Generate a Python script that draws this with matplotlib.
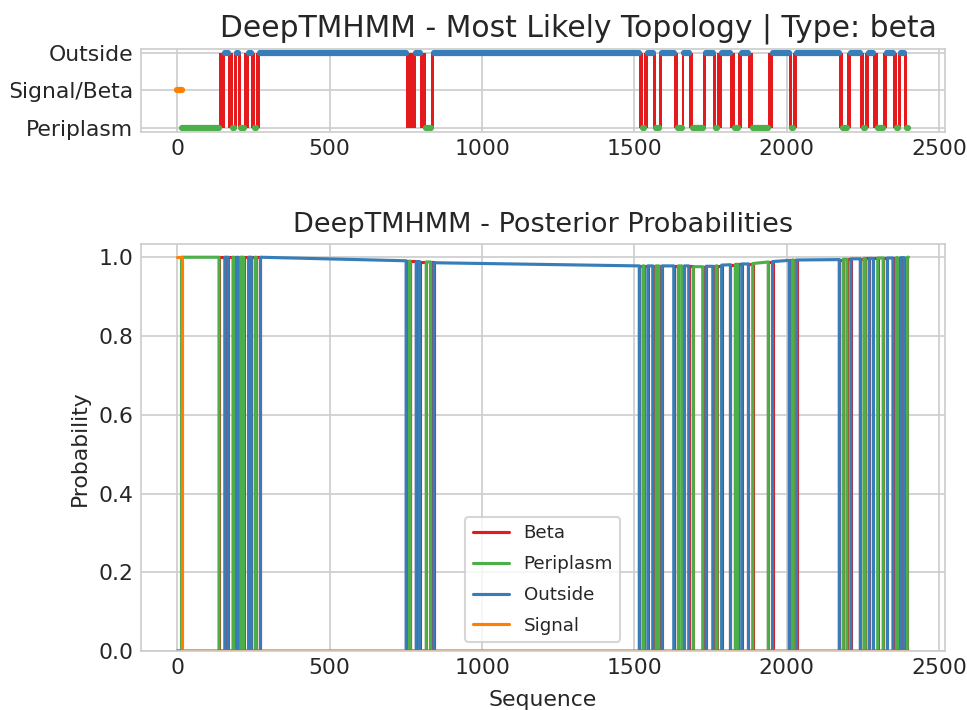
import matplotlib
matplotlib.use("Agg")
import matplotlib.pyplot as plt
from matplotlib.transforms import Bbox, TransformedBbox
import seaborn as sns

# ---- data (residue positions) ----
signal_end = 14
seq_end = 2399

strand_start = [137, 167, 186, 198, 218, 243, 259,
                751, 764, 795, 831,
                1516, 1531, 1560, 1580, 1629, 1655, 1678, 1724, 1757, 1771,
                1815, 1839, 1874, 1939, 2008, 2021, 2172, 2197, 2241, 2257,
                2284, 2316, 2348, 2363, 2385]
strand_end = [156, 183, 196, 208, 234, 256, 273,
              762, 784, 817, 842,
              1528, 1544, 1571, 1591, 1644, 1664, 1693, 1735, 1768, 1786,
              1831, 1852, 1888, 1953, 2018, 2032, 2185, 2210, 2253, 2270,
              2298, 2330, 2360, 2374, 2395]

# posterior level at start / end of each loop (loops alternate Periplasm / Outside)
loop_p_start = [1.0, 1.0, 1.0, 1.0, 1.0, 1.0, 1.0, 1.0,
                0.990, 0.989, 0.988, 0.986,
                0.978, 0.978, 0.978, 0.978, 0.978, 0.978, 0.976, 0.977, 0.978,
                0.980, 0.982, 0.983, 0.984, 0.989, 0.993, 0.993, 0.995, 0.996,
                0.997, 0.997, 0.998, 0.998, 0.999, 0.999, 1.0]
loop_p_end = [1.0, 1.0, 1.0, 1.0, 1.0, 1.0, 1.0, 0.991,
              0.990, 0.989, 0.988, 0.978,
              0.978, 0.978, 0.978, 0.978, 0.978, 0.978, 0.976, 0.977, 0.978,
              0.981, 0.982, 0.983, 0.988, 0.992, 0.993, 0.994, 0.995, 0.996,
              0.997, 0.997, 0.998, 0.998, 0.999, 0.999, 1.0]
signal_p = 1.0

classes = ["Beta", "Periplasm", "Outside", "Signal"]
colors = {"Beta": "#e41a1c", "Periplasm": "#4daf4a",
          "Outside": "#377eb8", "Signal": "#ff7f00"}
levels = {"Periplasm": 0, "Signal": 1, "Outside": 2}


def build_segments():
    # ordered list of (start, end, label, p_start, p_end)
    segs = [(0, signal_end, "Signal", signal_p, signal_p)]
    loop_bounds = [signal_end] + strand_end
    loop_ends = strand_start + [seq_end]
    for i in range(len(loop_bounds)):
        label = "Periplasm" if i % 2 == 0 else "Outside"
        segs.append((loop_bounds[i], loop_ends[i], label, loop_p_start[i], loop_p_end[i]))
        if i < len(strand_start):
            p = loop_p_end[i]
            segs.append((strand_start[i], strand_end[i], "Beta", p, p))
    return segs


sns.set_style("whitegrid")
plt.rcParams["font.family"] = ["DejaVu Sans"]
plt.rcParams["xtick.labelsize"] = 10.5
plt.rcParams["ytick.labelsize"] = 10.5
plt.rcParams["xtick.major.size"] = 0
plt.rcParams["ytick.major.size"] = 0
plt.rcParams["axes.titlesize"] = 13
plt.rcParams["axes.labelsize"] = 10.5
plt.rcParams["legend.fontsize"] = 8.75

segments = build_segments()

fig = plt.figure(figsize=(967 / 150, 710 / 150), dpi=150)
ax1 = fig.add_axes([0.1455, 0.814, 0.8318, 0.1172])
ax2 = fig.add_axes([0.1455, 0.083, 0.8318, 0.573])

# most likely topology
widths = [e - s for s, e in zip(strand_start, strand_end)]
ax1.bar(strand_start, 2, width=widths, bottom=0, align="edge",
        color=colors["Beta"], linewidth=0)
for s, e, label, _, _ in segments:
    if label == "Beta":
        continue
    y = levels[label]
    ax1.plot([s, e], [y, y], color=colors[label], lw=3, solid_capstyle="round")
ax1.set_ylim(-0.1, 2.1)
ax1.set_yticks([0, 1, 2])
ax1.set_yticklabels(["Periplasm", "Signal/Beta", "Outside"])
ax1.set_xticks([0, 500, 1000, 1500, 2000, 2500])
ax1.set_title("DeepTMHMM - Most Likely Topology | Type: beta", fontsize=14.3, x=0.544)

# the original picture cuts the y labels a little at its left edge
clip = TransformedBbox(Bbox([[11 / 967, 0], [1, 1]]), fig.transFigure)
for t in ax1.get_yticklabels():
    t.set_clip_box(clip)
    t.set_clip_on(True)

# posterior probabilities
for c in classes:
    xs, ys = [], []
    for s, e, label, p0, p1 in segments:
        xs += [s, e]
        ys += [p0, p1] if label == c else [0, 0]
    ax2.plot(xs, ys, color=colors[c], lw=1.5, label=c)
ax2.set_ylim(0, 1.033)
ax2.set_xticks([0, 500, 1000, 1500, 2000, 2500])
ax2.set_title("DeepTMHMM - Posterior Probabilities")
ax2.set_xlabel("Sequence", labelpad=5.5)
ax2.set_ylabel("Probability")
ax2.legend(loc="lower center", labelspacing=0.7)

fig.savefig("out.png", dpi=150)
